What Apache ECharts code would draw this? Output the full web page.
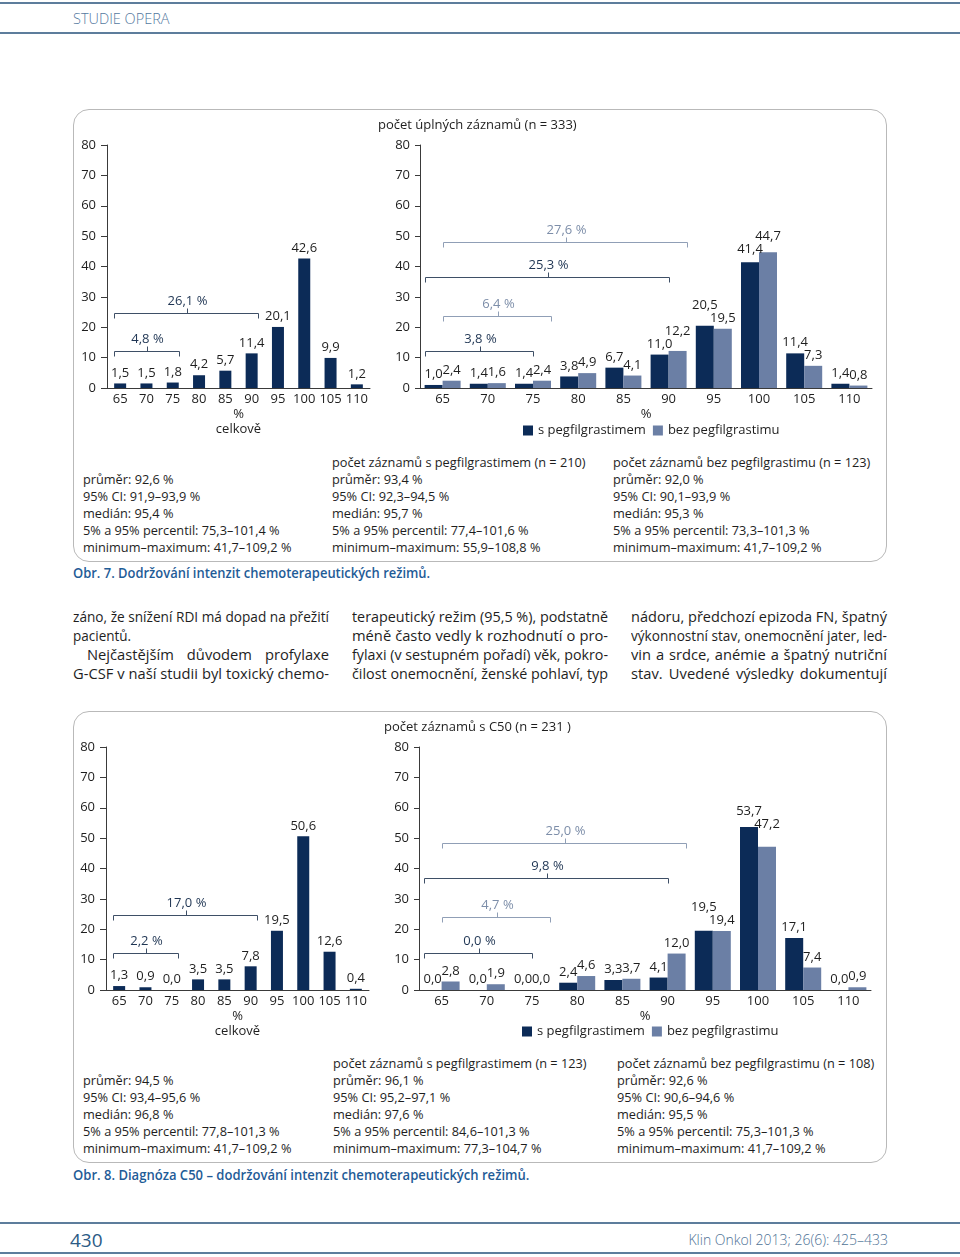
<!DOCTYPE html>
<html>
<head>
<meta charset="utf-8">
<script src="https://cdn.jsdelivr.net/npm/echarts@6/dist/echarts.min.js"></script>
<style>
  html,body{margin:0;padding:0;background:#fff;}
  body{width:960px;height:1257px;position:relative;overflow:hidden;font-family:"Open Sans",sans-serif;color:#1e1e1e;}
  .abs{position:absolute;white-space:nowrap;}
  .hline{position:absolute;left:0;width:960px;height:2px;background:#5d7d9c;}
  .box{position:absolute;border:1.5px solid #b9b9b9;border-radius:16px;box-sizing:border-box;}
  #chart{position:absolute;left:0;top:0;width:960px;height:1257px;z-index:2;}
</style>
</head>
<body>
<div class="hline" style="top:2px;"></div>
<div class="hline" style="top:32px;"></div>
<div class="abs" style="left:73px;top:10px;font-size:14.5px;line-height:18px;color:#5479a0;font-weight:300;">STUDIE OPERA</div>

<div class="box" style="left:73px;top:109px;width:814px;height:453px;"></div>
<div class="box" style="left:73px;top:711px;width:814px;height:452px;"></div>

<div class="hline" style="top:1222px;"></div>
<div class="hline" style="top:1252px;"></div>
<div class="abs" style="left:70px;top:1228px;font-size:19px;line-height:24px;color:#2c5b86;">430</div>
<div class="abs" style="right:72px;top:1231px;font-size:14px;line-height:18px;color:#4f7396;font-weight:300;">Klin Onkol 2013; 26(6): 425–433</div>

<div id="chart"></div>

<script>
// ---------------- data ----------------
const categories = ['65', '70', '75', '80', '85', '90', '95', '100', '105', '110'];
const seriesNames = ['s pegfilgrastimem', 'bez pegfilgrastimu'];
const yMin = 0, yMax = 80, yInterval = 10;

const fig7Total   = [1.5, 1.5, 1.8, 4.2, 5.7, 11.4, 20.1, 42.6, 9.9, 1.2];
const fig7With    = [1.0, 1.4, 1.4, 3.8, 6.7, 11.0, 20.5, 41.4, 11.4, 1.4];
const fig7Without = [2.4, 1.6, 2.4, 4.9, 4.1, 12.2, 19.5, 44.7, 7.3, 0.8];

const fig8Total   = [1.3, 0.9, 0.0, 3.5, 3.5, 7.8, 19.5, 50.6, 12.6, 0.4];
const fig8With    = [0.0, 0.0, 0.0, 2.4, 3.3, 4.1, 19.5, 53.7, 17.1, 0.0];
const fig8Without = [2.8, 1.9, 0.0, 4.6, 3.7, 12.0, 19.4, 47.2, 7.4, 0.9];

// brackets: summed share of categories (label), first/last category index, level on y scale, group (0 = s, 1 = bez)
const fig7LeftBrLabels  = ['4,8 %', '26,1 %'];
const fig7LeftBrFrom    = [0, 0];
const fig7LeftBrTo      = [2, 5];
const fig7LeftBrLevel   = [12.2, 24.7];

const fig7RightBrLabels = ['3,8 %', '6,4 %', '25,3 %', '27,6 %'];
const fig7RightBrFrom   = [0, 0, 0, 0];
const fig7RightBrTo     = [2, 2, 5, 5];
const fig7RightBrLevel  = [12.2, 23.8, 36.6, 48.1];
const fig7RightBrGroup  = [0, 1, 0, 1];

const fig8LeftBrLabels  = ['2,2 %', '17,0 %'];
const fig8LeftBrFrom    = [0, 0];
const fig8LeftBrTo      = [2, 5];
const fig8LeftBrLevel   = [12.2, 24.7];

const fig8RightBrLabels = ['0,0 %', '4,7 %', '9,8 %', '25,0 %'];
const fig8RightBrFrom   = [0, 0, 0, 0];
const fig8RightBrTo     = [2, 2, 5, 5];
const fig8RightBrLevel  = [12.2, 24.0, 36.8, 48.4];
const fig8RightBrGroup  = [0, 1, 0, 1];

const fig7Title = 'počet úplných záznamů (n = 333)';
const fig8Title = 'počet záznamů s C50 (n = 231 )';

const fig7Stats = [
  ['', 'průměr: 92,6 %', '95% CI: 91,9–93,9 %', 'medián: 95,4 %', '5% a 95% percentil: 75,3–101,4 %', 'minimum–maximum: 41,7–109,2 %'],
  ['počet záznamů s pegfilgrastimem (n = 210)', 'průměr: 93,4 %', '95% CI: 92,3–94,5 %', 'medián: 95,7 %', '5% a 95% percentil: 77,4–101,6 %', 'minimum–maximum: 55,9–108,8 %'],
  ['počet záznamů bez pegfilgrastimu (n = 123)', 'průměr: 92,0 %', '95% CI: 90,1–93,9 %', 'medián: 95,3 %', '5% a 95% percentil: 73,3–101,3 %', 'minimum–maximum: 41,7–109,2 %']
];
const fig8Stats = [
  ['', 'průměr: 94,5 %', '95% CI: 93,4–95,6 %', 'medián: 96,8 %', '5% a 95% percentil: 77,8–101,3 %', 'minimum–maximum: 41,7–109,2 %'],
  ['počet záznamů s pegfilgrastimem (n = 123)', 'průměr: 96,1 %', '95% CI: 95,2–97,1 %', 'medián: 97,6 %', '5% a 95% percentil: 84,6–101,3 %', 'minimum–maximum: 77,3–104,7 %'],
  ['počet záznamů bez pegfilgrastimu (n = 108)', 'průměr: 92,6 %', '95% CI: 90,6–94,6 %', 'medián: 95,5 %', '5% a 95% percentil: 75,3–101,3 %', 'minimum–maximum: 41,7–109,2 %']
];
const fig7Caption = 'Obr. 7. Dodržování intenzit chemoterapeutických režimů.';
const fig8Caption = 'Obr. 8. Diagnóza C50 – dodržování intenzit chemoterapeutických režimů.';

const bodyColumns = [
  ['záno, že snížení RDI má dopad na přežití', 'pacientů.', 'Nejčastějším důvodem profylaxe', 'G-CSF v naší studii byl toxický chemo-'],
  ['terapeutický režim (95,5 %), podstatně', 'méně často vedly k rozhodnutí o pro-', 'fylaxi (v sestupném pořadí) věk, pokro-', 'čilost onemocnění, ženské pohlaví, typ'],
  ['nádoru, předchozí epizoda FN, špatný', 'výkonnostní stav, onemocnění jater, led-', 'vin a srdce, anémie a špatný nutriční', 'stav. Uvedené výsledky dokumentují']
];

// ---------------- html text ----------------
function addText(x, yc, s, css) {
  const d = document.createElement('div');
  d.className = 'abs';
  d.textContent = s;
  d.style.cssText += 'left:' + x + 'px;top:' + (yc - 9) + 'px;line-height:18px;' + (css || '');
  document.body.appendChild(d);
  return d;
}
function addStats(stats, xs, yTitle) {
  stats.forEach((col, c) => {
    col.forEach((line, i) => {
      if (line) addText(xs[c], yTitle + i * 17, line, 'font-size:13px;color:#1e1e1e;transform:scaleX(0.98);transform-origin:0 0;');
    });
  });
}
addStats(fig7Stats, [83, 332, 613], 462);
addStats(fig8Stats, [83, 333, 617], 1063);
addText(73, 573, fig7Caption, 'font-size:14px;font-weight:600;color:#1f5c97;transform:scaleX(0.925);transform-origin:0 0;');
addText(73, 1175, fig8Caption, 'font-size:14px;font-weight:600;color:#1f5c97;transform:scaleX(0.932);transform-origin:0 0;');

// body text columns, justified line by line
const colX = [73, 352, 631], colW = 256, lineY0 = 615.5, lineStep = 19.3;
bodyColumns.forEach((lines, c) => {
  lines.forEach((ln, i) => {
    const isParaEnd = (c === 0 && i === 1);
    const indent = (c === 0 && i === 2) ? 14 : 0;
    const d = document.createElement('div');
    d.className = 'abs';
    d.textContent = ln;
    d.style.left = (colX[c] + indent) + 'px';
    d.style.top = (lineY0 + i * lineStep - 10) + 'px';
    d.style.fontSize = '15px';
    d.style.lineHeight = '20px';
    d.style.color = '#1e1e1e';
    d.style.transformOrigin = '0 0';
    document.body.appendChild(d);
    const w = d.getBoundingClientRect().width;
    const target = colW - indent;
    let s = 0.9;
    if (!isParaEnd) {
      s = Math.min(0.98, Math.max(0.8, target / w));
      const n = (ln.match(/ /g) || []).length;
      if (w * s < target - 0.5 && n > 0) d.style.wordSpacing = ((target / s - w) / n) + 'px';
    }
    d.style.transform = 'scaleX(' + s + ')';
  });
});

// ---------------- chart ----------------
const FONT = '"Open Sans", sans-serif';
const DARK = '#0c2b57', LIGHT = '#6b7fa5';
const fmtNum = v => Number(v).toFixed(1).replace('.', ',');
const fmt = p => fmtNum(p.value);

const grids = [
  { left: 107, top: 145, width: 263, height: 243 },
  { left: 420, top: 145, width: 452, height: 243 },
  { left: 106, top: 747, width: 263, height: 243 },
  { left: 419, top: 747, width: 452, height: 243 }
];
const PPU = 243 / (yMax - yMin);
const LBL = 12; // default label centre above the bar top, px

// keep the labels of a bar pair apart: shorter label clears the taller bar, taller label sits above it
function pairItems(a, b) {
  const A = a.map(v => ({ value: v })), B = b.map(v => ({ value: v }));
  a.forEach((va, i) => {
    const vb = b[i];
    const la = fmtNum(va).length, lb = fmtNum(vb).length;
    if (la < 4 && lb < 4) return;
    const tallerIsA = va >= vb;
    const hs = (tallerIsA ? vb : va) * PPU, ht = (tallerIsA ? va : vb) * PPU;
    const ls = tallerIsA ? lb : la;
    let cs = hs + LBL;
    if (ls >= 4 && cs < ht + 4) cs = ht + 4;
    let ct = Math.max(ht + LBL, cs + 13);
    const offS = -(cs - (hs + LBL)), offT = -(ct - (ht + LBL));
    const S = tallerIsA ? B : A, T = tallerIsA ? A : B;
    if (offS) S[i].label = { offset: [0, offS] };
    if (offT) T[i].label = { offset: [0, offT] };
  });
  return [A, B];
}

function xAxisFor(i, name) {
  return {
    type: 'category', gridIndex: i, data: categories,
    axisLine: { lineStyle: { color: '#3a3a3a', width: 1 } },
    axisTick: { show: false },
    axisLabel: { interval: 0, margin: 5, color: '#1e1e1e', fontSize: 13, fontFamily: FONT },
    name: name, nameLocation: 'middle', nameGap: 19,
    nameTextStyle: { color: '#1e1e1e', fontSize: 13, fontFamily: FONT, lineHeight: 15, verticalAlign: 'top' }
  };
}
function yAxisFor(i, tickLen, margin) {
  return {
    type: 'value', gridIndex: i, min: yMin, max: yMax, interval: yInterval,
    axisLine: { show: true, lineStyle: { color: '#3a3a3a', width: 1 } },
    axisTick: { show: true, length: tickLen, lineStyle: { color: '#3a3a3a' } },
    splitLine: { show: false },
    axisLabel: { margin: margin, color: '#1e1e1e', fontSize: 13, fontFamily: FONT }
  };
}
function barSeries(i, name, data, color, width) {
  return {
    type: 'bar', name: name, xAxisIndex: i, yAxisIndex: i, data: data,
    barWidth: width, barGap: '0%',
    itemStyle: { color: color },
    label: { show: true, position: 'top', distance: 4, formatter: fmt, color: '#1e1e1e', fontSize: 13, fontFamily: FONT },
    emphasis: { disabled: true }, silent: true, z: 2
  };
}
function bracketSeries(i, labels, from, to, level, group, barW, paired) {
  const data = labels.map((l, k) => [from[k], level[k], to[k], group ? group[k] : 0]);
  return {
    type: 'custom', xAxisIndex: i, yAxisIndex: i, data: data, silent: true, z: 5, clip: false,
    encode: { x: 0, y: 1 },
    renderItem: function (params, api) {
      const f = api.value(0), lv = api.value(1), t = api.value(2), g = api.value(3);
      const a = api.coord([f, lv]), b = api.coord([t, lv]);
      let x1, x2;
      if (!paired) { x1 = a[0] - barW / 2; x2 = b[0] + barW / 2; }
      else if (g === 0) { x1 = a[0] - barW; x2 = b[0]; }
      else { x1 = a[0]; x2 = b[0] + barW; }
      x1 = Math.round(x1) + 0.5; x2 = Math.round(x2) + 0.5;
      const y = Math.round(a[1]) + 0.5;
      const xm = Math.round((x1 + x2) / 2) + 0.5;
      const stroke = g === 0 ? '#3e4f66' : '#909fb6';
      const tcol = g === 0 ? '#1f3553' : '#7d8ea9';
      return {
        type: 'group',
        children: [
          { type: 'polyline', shape: { points: [[x1, y + 5], [x1, y], [x2, y], [x2, y + 5]] }, style: { stroke: stroke, fill: 'none', lineWidth: 1 } },
          { type: 'line', shape: { x1: xm, y1: y, x2: xm, y2: y - 5 }, style: { stroke: stroke, lineWidth: 1 } },
          { type: 'text', x: xm, y: y - 6, style: { text: labels[params.dataIndex], fill: tcol, fontSize: 13, fontFamily: FONT, align: 'center', verticalAlign: 'bottom' } }
        ]
      };
    }
  };
}

const p7 = pairItems(fig7With, fig7Without);
const p8 = pairItems(fig8With, fig8Without);

const chart = echarts.init(document.getElementById('chart'), null, { renderer: 'canvas', width: 960, height: 1257 });
const option = {
  backgroundColor: 'transparent',
  animation: false,
  textStyle: { fontFamily: FONT },
  title: [
    { text: fig7Title, left: 378, top: 119, textStyle: { fontSize: 13, fontWeight: 'normal', color: '#1e1e1e', fontFamily: FONT }, padding: 0 },
    { text: fig8Title, left: 384, top: 721, textStyle: { fontSize: 13, fontWeight: 'normal', color: '#1e1e1e', fontFamily: FONT }, padding: 0 }
  ],
  legend: [
    { left: 523, top: 424, itemWidth: 10, itemHeight: 10, itemGap: 7, icon: 'rect', padding: 0,
      textStyle: { fontSize: 13, color: '#1e1e1e', fontFamily: FONT }, data: seriesNames, selectedMode: false },
    { left: 522, top: 1025, itemWidth: 10, itemHeight: 10, itemGap: 7, icon: 'rect', padding: 0,
      textStyle: { fontSize: 13, color: '#1e1e1e', fontFamily: FONT }, data: seriesNames, selectedMode: false }
  ],
  grid: grids,
  xAxis: [xAxisFor(0, '%\ncelkově'), xAxisFor(1, '%'), xAxisFor(2, '%\ncelkově'), xAxisFor(3, '%')],
  yAxis: [yAxisFor(0, 6, 11), yAxisFor(1, 5, 10), yAxisFor(2, 6, 11), yAxisFor(3, 5, 10)],
  series: [
    barSeries(0, 'celkově 7', fig7Total, DARK, 12),
    barSeries(1, seriesNames[0], p7[0], DARK, 18),
    barSeries(1, seriesNames[1], p7[1], LIGHT, 18),
    barSeries(2, 'celkově 8', fig8Total, DARK, 12),
    barSeries(3, seriesNames[0], p8[0], DARK, 18),
    barSeries(3, seriesNames[1], p8[1], LIGHT, 18),
    bracketSeries(0, fig7LeftBrLabels, fig7LeftBrFrom, fig7LeftBrTo, fig7LeftBrLevel, null, 12, false),
    bracketSeries(1, fig7RightBrLabels, fig7RightBrFrom, fig7RightBrTo, fig7RightBrLevel, fig7RightBrGroup, 18, true),
    bracketSeries(2, fig8LeftBrLabels, fig8LeftBrFrom, fig8LeftBrTo, fig8LeftBrLevel, null, 12, false),
    bracketSeries(3, fig8RightBrLabels, fig8RightBrFrom, fig8RightBrTo, fig8RightBrLevel, fig8RightBrGroup, 18, true)
  ]
};
chart.setOption(option);
</script>
</body>
</html>
